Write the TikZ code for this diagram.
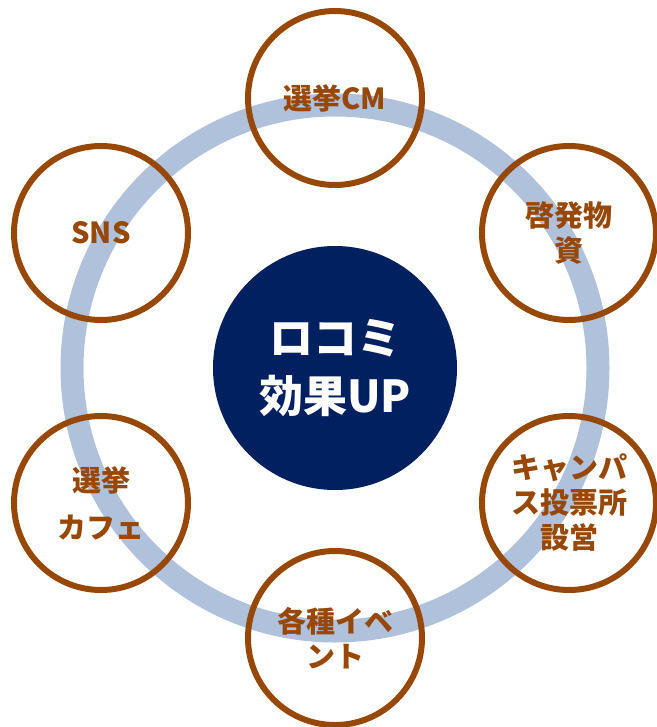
\documentclass[tikz,border=0pt]{standalone}
\usepackage{fontspec}
\newfontfamily\jp{Noto Sans CJK JP}
\definecolor{itembrown}{HTML}{974806}
\definecolor{ringblue}{HTML}{B0C1DC}
\definecolor{hubnavy}{HTML}{002060}
\tikzset{
  ringline/.style={draw=ringblue, line width=23pt},
  item/.style={circle, draw=itembrown, line width=6pt, minimum size=174pt, inner sep=0pt,
    text=itembrown, align=center, font={\jp\bfseries\fontsize{29}{35}\selectfont}},
  hub/.style={circle, fill=hubnavy, minimum size=244pt, inner sep=0pt,
    text=white, align=center, font={\jp\bfseries\fontsize{44}{58}\selectfont}}
}
\begin{document}
\begin{tikzpicture}[x=1pt,y=-1pt]
\useasboundingbox (0,0) rectangle (656,727);
\coordinate (c) at (335,368);
\draw[ringline] (c) circle (263);
\node[hub] (hubnode) at (c) {ロコミ\\効果UP};
\node[item] (cm) at (335,98) {選挙CM};
\node[item] (mat) at (569,233) {啓発物\\資};
\node[item] (camp) at (569,503) {キャンパ\\ス投票所\\設営};
\node[item] (event) at (335,638) {各種イベ\\ント};
\node[item] (cafe) at (101,503) {選挙\\[12pt]カフェ};
\node[item] (sns) at (101,233) {SNS};
\end{tikzpicture}
\end{document}
